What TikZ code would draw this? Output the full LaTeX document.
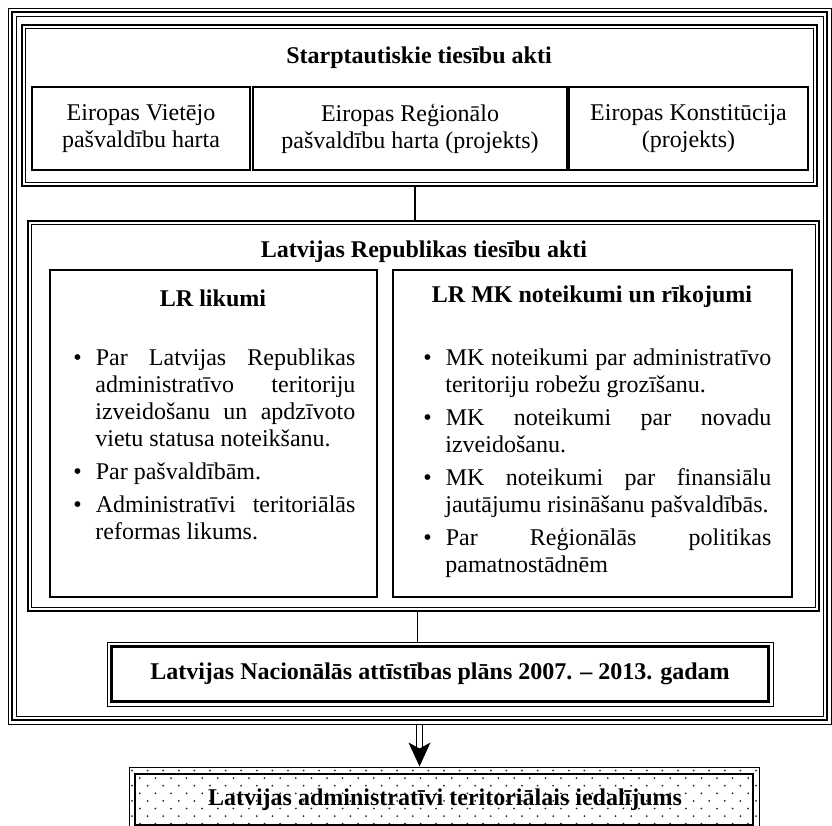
\documentclass[tikz,border=0pt]{standalone}
\usepackage{fontspec}
\setmainfont{Liberation Serif}
\usetikzlibrary{fit,arrows.meta}

\hyphenpenalty=10000
\tolerance=10000

\newenvironment{actlist}{%
  \begin{list}{\textbullet}{%
    \setlength{\leftmargin}{11pt}\setlength{\labelwidth}{4pt}%
    \setlength{\labelsep}{7pt}\setlength{\itemsep}{3pt}%
    \setlength{\parsep}{0pt}\setlength{\topsep}{0pt}\setlength{\partopsep}{0pt}}}%
  {\end{list}}

\begin{document}
\begin{tikzpicture}[x=0.5pt,y=-0.5pt,
    every node/.style={font=\fontsize{12}{13.5}\selectfont},
    rim/.style={draw, inner sep=0pt, line width=0.5pt},
    heavy/.style={line width=1.3pt},
    slim/.style={line width=0.5pt},
    cell/.style={draw, line width=0.9pt, inner sep=0pt, align=center},
    hd/.style={font=\fontsize{12}{13.5}\selectfont\bfseries},
    acts/.style={anchor=north west, inner sep=0pt, align=justify},
    conn/.style={line width=0.6pt}]
    \useasboundingbox (0,0) rectangle (832,826);

    \node[rim, fit={(8,8) (831,724)}] (frame) {};
    \draw[heavy] ([shift={(4.5,4.5)}]frame.north west) rectangle ([shift={(-4.5,-4.5)}]frame.south east);
    \draw[slim] ([shift={(8.5,8.5)}]frame.north west) rectangle ([shift={(-8.5,-8.5)}]frame.south east);

    \node[rim, heavy, fit={(22,25) (817,186)}] (intl) {};
    \draw[slim] ([shift={(4.5,4.5)}]intl.north west) rectangle ([shift={(-4.5,-4.5)}]intl.south east);
    \node[hd] (intltitle) at (419,58) {Starptautiskie tiesību akti};
    \node[cell, minimum width=109pt, minimum height=41.5pt] (euvh) at (141,128.5) {Eiropas Vietējo\\pašvaldību harta};
    \node[cell, minimum width=157pt, minimum height=41.5pt] (eurh) at (410,128.5) {Eiropas Reģionālo\\pašvaldību harta (projekts)};
    \node[cell, minimum width=119.5pt, minimum height=41.5pt] (euconst) at (688.5,128.5) {Eiropas Konstitūcija\\(projekts)};

    \node[rim, heavy, fit={(28,221) (819,611)}] (lract) {};
    \draw[slim] ([shift={(5,5)}]lract.north west) rectangle ([shift={(-5,-5)}]lract.south east);
    \node[hd] (lrtitle) at (424,252) {Latvijas Republikas tiesību akti};

    \node[cell, fit={(50,270) (377,597)}] (laws) {};
    \node[hd] (lawhead) at (213,298) {LR likumi};
    \node[acts, text width=141pt] (lawlist) at (73,338) {%
    \begin{actlist}
    \item Par Latvijas Republikas\linebreak administratīvo teritoriju\linebreak izveidošanu un apdzīvoto\linebreak vietu statusa noteikšanu.
    \item Par pašvaldībām.
    \item Administratīvi teritoriālās\linebreak reformas likums.
    \end{actlist}};

    \node[cell, fit={(393,270) (792,597)}] (mkrules) {};
    \node[hd] (mkhead) at (592,297) {LR MK noteikumi un rīkojumi};
    \node[acts, text width=174pt] (mklist) at (423,338) {%
    \begin{actlist}
    \item MK noteikumi par administratīvo\linebreak teritoriju robežu grozīšanu.
    \item MK noteikumi par novadu\linebreak izveidošanu.
    \item MK noteikumi par finansiālu\linebreak jautājumu risināšanu pašvaldībās.
    \item Par Reģionālās politikas\linebreak pamatnostādnēm
    \end{actlist}};

    \node[rim, fit={(107,642) (773,706)}] (plan) {};
    \draw[heavy] ([shift={(5,5)}]plan.north west) rectangle ([shift={(-5,-5)}]plan.south east);
    \node[hd] (plantext) at (440,674) {Latvijas Nacionālās attīstības plāns 2007. – 2013. gadam};

    \draw[conn] ([xshift=-2.25pt]intl.south) -- ([xshift=-2.25pt]intl.south |- lract.north);
    \draw[conn] ([xshift=-3pt]lract.south) -- ([xshift=-3pt]lract.south |- plan.north);

    \node[rim, fit={(129,767) (759,834)}] (admin) {};
    \begin{scope}
      \clip (admin.north west) rectangle (admin.south east);
      \foreach \r in {0,...,7}
        \foreach \c in {0,...,41}
          \fill[black!85] ({132+15.6*\c+7.8*mod(\r,2)},{770.5+7.6*\r}) circle (0.5pt);
    \end{scope}
    \draw[heavy] (135,774) rectangle (753,825);
    \node[hd] (admintext) at (445,800) {Latvijas administratīvi teritoriālais iedalījums};

    \draw[conn, double, double distance=2.2pt] (frame.south) -- ++(0,25);
    \fill (frame.south |- admin.north) -- ++(-11,-24) -- ++(11,6) -- ++(11,-6) -- cycle;
\end{tikzpicture}
\end{document}
